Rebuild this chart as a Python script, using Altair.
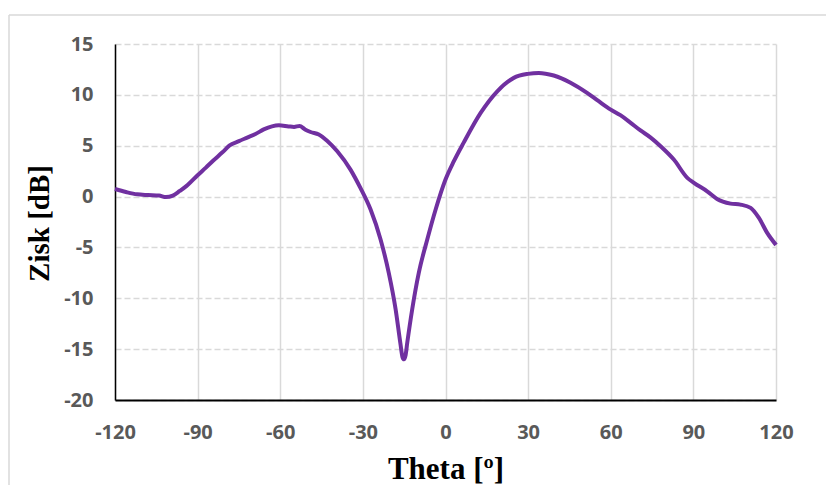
import altair as alt
import pandas as pd

# Gain pattern
theta = [-120, -116, -112, -108, -104, -101.5, -99, -96.5, -94, -90, -87, -84.5,
         -81, -78.5, -75, -72, -69, -66, -63, -60.5, -57, -55, -53, -51, -49,
         -46, -43, -39.3, -34.5, -30.9, -27.2, -23.6, -20.6, -18.1, -16.4,
         -15.6, -15.1, -14.5, -13.9, -12.1, -9.7, -6.6, -3.5, 0, 3, 6.6, 12.7,
         18.8, 24.8, 29.9, 33.9, 39.3, 45.4, 51.4, 55.5, 60, 63.5, 67, 70.8,
         74.5, 78.1, 82.9, 87.8, 90.2, 95, 98.6, 103.5, 107.1, 110.8, 113.8,
         116.8, 120]
gain = [0.75, 0.45, 0.22, 0.15, 0.1, -0.05, 0.1, 0.55, 1.05, 2.1, 2.85, 3.5,
        4.35, 5.0, 5.45, 5.8, 6.15, 6.6, 6.9, 7.0, 6.9, 6.85, 6.95, 6.6, 6.35,
        6.1, 5.5, 4.45, 2.65, 0.85, -1.28, -4.2, -7.5, -11.1, -14.4,
        -15.8, -16.0, -15.6, -14.4, -11.1, -7.5, -4.2, -1.2, 1.67, 3.45, 5.3, 8.2,
        10.35, 11.67, 12.06, 12.16, 11.9, 11.2, 10.2, 9.4, 8.55, 8.0, 7.3, 6.5,
        5.8, 4.95, 3.64, 1.84, 1.35, 0.52, -0.23, -0.69, -0.79, -1.11, -2.1,
        -3.57, -4.75]

x_ticks = [-120, -90, -60, -30, 0, 30, 60, 90, 120]
y_ticks = [-20, -15, -10, -5, 0, 5, 10, 15]

df = pd.DataFrame({"theta": theta, "gain": gain})
one = pd.DataFrame({"a": [0]})

label_style = dict(labelFont="Open Sans", labelFontWeight="bold", labelFontSize=20,
                   labelColor="#595959", ticks=False, labelFlush=False,
                   labelOverlap=False, labelExpr="'' + datum.value",
                   titleFont="Liberation Serif",
                   titleFontWeight="bold", titleColor="black",
                   gridColor="#d9d9d9", gridWidth=1.5, domainColor="black")

line = alt.Chart(df).mark_line(color="#7030A0", strokeWidth=4,
                               interpolate="monotone").encode(
    x=alt.X("theta:Q", scale=alt.Scale(domain=[-120, 120], nice=False),
            axis=alt.Axis(values=x_ticks, title="Theta [º]", grid=True,
                          domainWidth=2, labelPadding=22, titleFontSize=31,
                          titleBaseline="alphabetic", titleY=78, **label_style)),
    y=alt.Y("gain:Q", scale=alt.Scale(domain=[-20, 15], nice=False),
            axis=alt.Axis(values=y_ticks, title="Zisk [dB]", grid=True,
                          gridDash=[6, 3], domainWidth=1.5, labelPadding=22,
                          titleFontSize=29, titleAngle=-90, titleAlign="center",
                          titleBaseline="alphabetic", titleX=-67, titleY=179,
                          **label_style)),
)

frame_left = alt.Chart(one).mark_rule(color="#d9d9d9", strokeWidth=1.5).encode(
    x=alt.value(-106), y=alt.value(-29), y2=alt.value(520))
frame_top = alt.Chart(one).mark_rule(color="#d9d9d9", strokeWidth=1.5).encode(
    x=alt.value(-106), x2=alt.value(900), y=alt.value(-29))

chart = alt.layer(frame_left, frame_top, line).properties(
    width=661, height=356,
    padding={"left": 107, "top": 36, "right": 50, "bottom": 85},
    autosize=alt.AutoSizeParams(type="none"),
    background="white",
).configure_view(stroke="transparent")

chart.save("out.html", embed_options={"renderer": "svg", "actions": False})
